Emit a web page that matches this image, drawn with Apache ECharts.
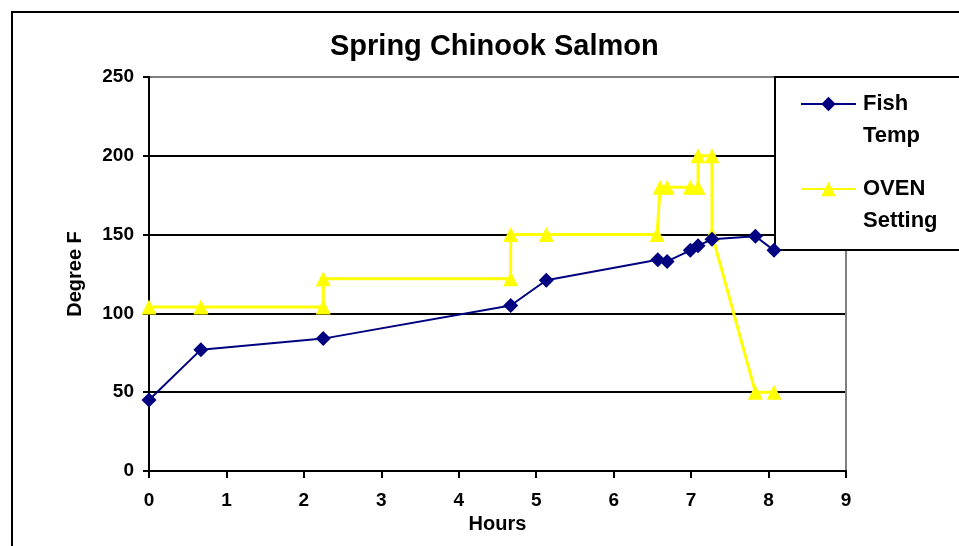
<!DOCTYPE html>
<html>
<head>
<meta charset="utf-8">
<style>
  html, body { margin: 0; padding: 0; background: #ffffff; }
  #chart { width: 959px; height: 546px; }
</style>
<script src="https://cdn.jsdelivr.net/npm/echarts@6/dist/echarts.min.js"></script>
</head>
<body>
<div id="chart"></div>
<script>
// Fish core temperature readings (hours since start, degrees F)
var fishHours = [0, 0.67, 2.25, 4.67, 5.13, 6.57, 6.69, 6.99, 7.09, 7.27, 7.83, 8.07];
var fishTemp  = [45, 77, 84, 105, 121, 134, 133, 140, 143, 147, 149, 140];

// Oven thermostat setting changes (hours, degrees F)
var ovenHours = [0, 0.67, 2.25, 2.25, 4.67, 4.67, 5.13, 6.56, 6.6, 6.69, 6.99, 7.09, 7.09, 7.27, 7.27, 7.83, 8.07];
var ovenTemp  = [104, 104, 104, 122, 122, 150, 150, 150, 180, 180, 180, 180, 200, 200, 150, 50, 50];

var hourTicks = [0, 1, 2, 3, 4, 5, 6, 7, 8, 9];
var degreeTicks = [0, 50, 100, 150, 200, 250];

var FONT = '"Liberation Sans", Arial, sans-serif';

function pairs(xs, ys) {
  return xs.map(function (x, i) { return [x, ys[i]]; });
}

var chart = echarts.init(document.getElementById('chart'), null, { renderer: 'canvas' });

chart.setOption({
  backgroundColor: '#ffffff',
  animation: false,
  title: {
    text: 'Spring Chinook Salmon',
    left: 330,
    top: 32,
    padding: 0,
    textStyle: { fontFamily: FONT, fontSize: 29, fontWeight: 'bold', color: '#000' }
  },
  graphic: [
    {
      // outer chart frame
      type: 'rect', z: 0, silent: true,
      shape: { x: 12, y: 12, width: 1000, height: 600 },
      style: { fill: 'none', stroke: '#000', lineWidth: 2 }
    },
    {
      // legend box
      type: 'rect', z: 1, silent: true,
      shape: { x: 775, y: 77, width: 200, height: 173 },
      style: { fill: '#ffffff', stroke: '#000', lineWidth: 2 }
    }
  ],
  legend: {
    orient: 'vertical',
    left: 800,
    top: 56,
    padding: 0,
    itemGap: -11,
    itemWidth: 55,
    itemHeight: 18,
    selectedMode: false,
    // blank first line keeps the first word level with the legend symbol
    formatter: function (name) { return '\n' + name.replace(' ', '\n'); },
    textStyle: {
      fontFamily: FONT, fontSize: 22, fontWeight: 'bold', color: '#000',
      lineHeight: 32, padding: [0, 0, 0, 2]
    },
    data: ['Fish Temp', 'OVEN Setting']
  },
  grid: { left: 149, top: 77, width: 697, height: 394, containLabel: false },
  xAxis: {
    type: 'value',
    min: hourTicks[0],
    max: hourTicks[hourTicks.length - 1],
    interval: 1,
    name: 'Hours',
    nameLocation: 'middle',
    nameGap: 35,
    nameTextStyle: { fontFamily: FONT, fontSize: 20, fontWeight: 'bold', color: '#000' },
    axisLine: { show: true, onZero: false, lineStyle: { color: '#000', width: 2 } },
    axisTick: { show: true, length: 7, lineStyle: { color: '#000', width: 2 } },
    axisLabel: { margin: 20, fontFamily: FONT, fontSize: 19, fontWeight: 'bold', color: '#000' },
    splitLine: {
      show: true,
      lineStyle: {
        width: 2,
        color: ['rgba(0,0,0,0)', 'rgba(0,0,0,0)', 'rgba(0,0,0,0)', 'rgba(0,0,0,0)', 'rgba(0,0,0,0)',
                'rgba(0,0,0,0)', 'rgba(0,0,0,0)', 'rgba(0,0,0,0)', 'rgba(0,0,0,0)', '#808080']
      }
    }
  },
  yAxis: {
    type: 'value',
    min: degreeTicks[0],
    max: degreeTicks[degreeTicks.length - 1],
    interval: 50,
    name: 'Degree F',
    nameLocation: 'middle',
    nameGap: 64,
    nameTextStyle: { fontFamily: FONT, fontSize: 20, fontWeight: 'bold', color: '#000' },
    axisLine: { show: true, onZero: false, lineStyle: { color: '#000', width: 2 } },
    axisTick: { show: true, length: 6, lineStyle: { color: '#000', width: 2 } },
    axisLabel: { margin: 15, fontFamily: FONT, fontSize: 19, fontWeight: 'bold', color: '#000' },
    splitLine: {
      show: true,
      lineStyle: { width: 2, color: ['#000', '#000', '#000', '#000', '#000', '#808080'] }
    }
  },
  series: [
    {
      name: 'OVEN Setting',
      type: 'line',
      z: 2,
      data: pairs(ovenHours, ovenTemp),
      symbol: 'triangle',
      symbolSize: 15,
      showAllSymbol: true,
      lineStyle: { color: '#ffff00', width: 3 },
      itemStyle: { color: '#ffff00' }
    },
    {
      name: 'Fish Temp',
      type: 'line',
      z: 3,
      data: pairs(fishHours, fishTemp),
      symbol: 'diamond',
      symbolSize: 15,
      showAllSymbol: true,
      lineStyle: { color: '#000080', width: 2 },
      itemStyle: { color: '#000080' }
    }
  ]
});
</script>
</body>
</html>
